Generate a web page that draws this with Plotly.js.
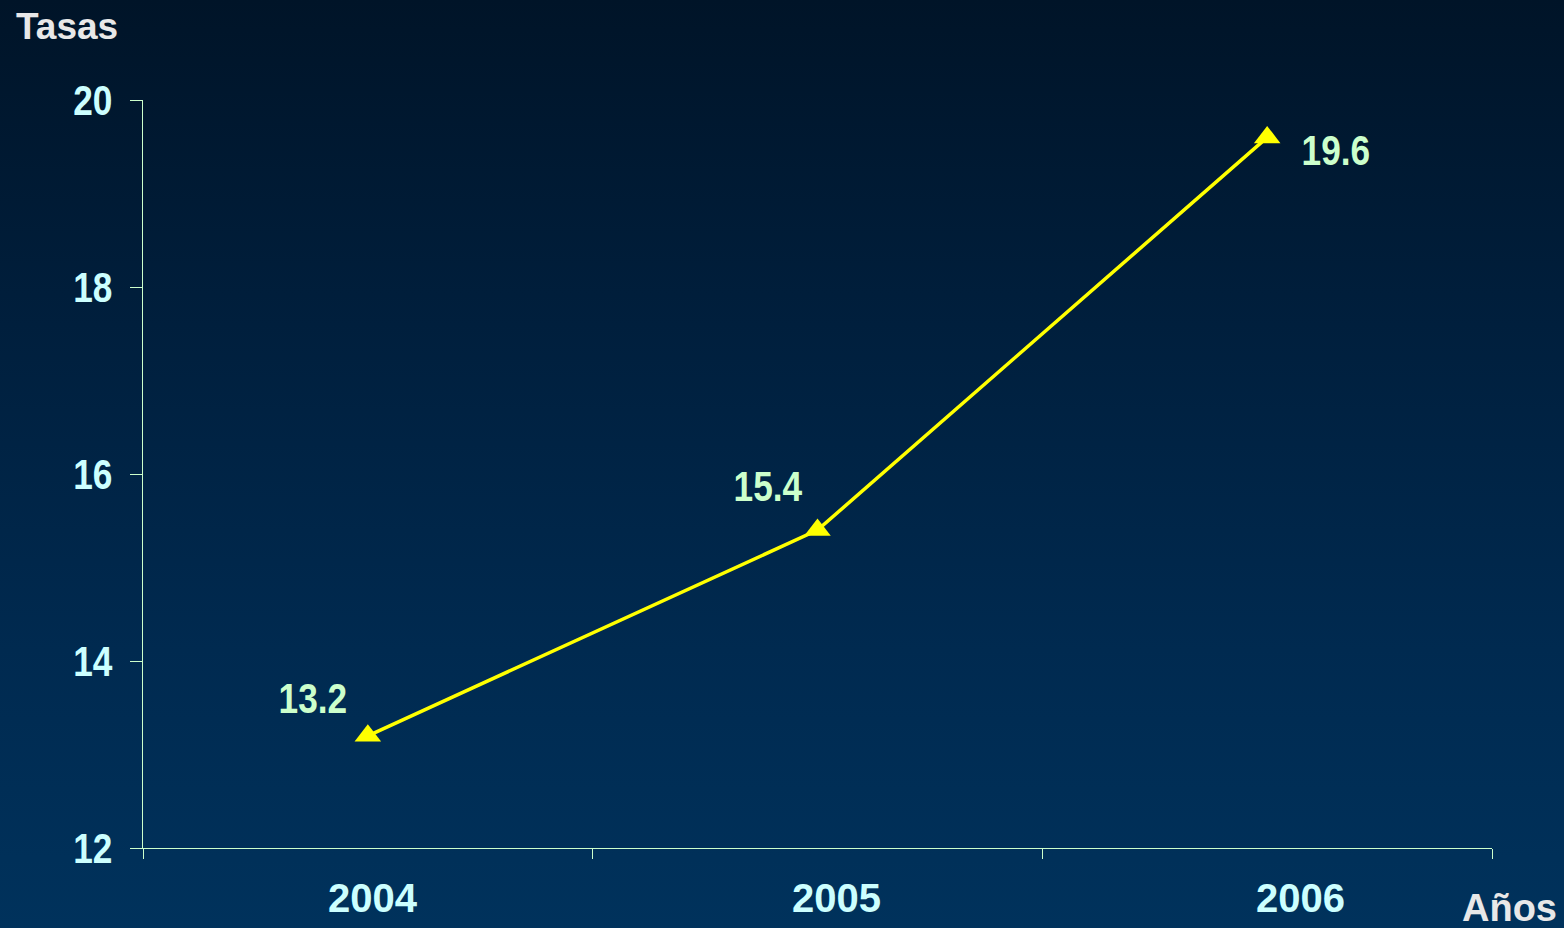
<!DOCTYPE html>
<html>
<head>
<meta charset="utf-8">
<script src="https://cdn.plot.ly/plotly-3.0.1.min.js"></script>
<style>
html,body{margin:0;padding:0;width:1564px;height:928px;overflow:hidden;}
body{background:linear-gradient(to bottom,#001428 0%,#001f3d 35%,#002a50 70%,#00325c 100%);}
#chart{width:1564px;height:928px;}
</style>
</head>
<body>
<div id="chart"></div>
<script>
var years = ["2004", "2005", "2006"];
var tasas = [13.2, 15.4, 19.6];
var valueLabels = ["13.2", "15.4", "19.6"];
var yTicks = [12, 14, 16, 18, 20];

var arial = "'Liberation Sans', Arial, sans-serif";

var trace = {
  x: years,
  y: tasas,
  type: "scatter",
  mode: "lines+markers",
  line: {color: "#ffff00", width: 3.5},
  marker: {symbol: "triangle-up", size: 23, color: "#ffff00"},
  hoverinfo: "x+y",
  cliponaxis: false
};

var labelShifts = [[-55, 38], [-50, 44], [69, -13]];
var catShifts = [5, 19, 33];

var annotations = [];
for (var i = 0; i < years.length; i++) {
  annotations.push({
    x: i, y: tasas[i], xref: "x", yref: "y",
    text: "<b>" + valueLabels[i] + "</b>", showarrow: false,
    xshift: labelShifts[i][0], yshift: labelShifts[i][1],
    font: {family: arial, size: 43, color: "#ccffcc"}
  });
  annotations.push({
    x: i, y: 0, xref: "x", yref: "paper",
    text: "<b>" + years[i] + "</b>", showarrow: false,
    xshift: catShifts[i], yanchor: "middle", yshift: -50,
    font: {family: arial, size: 40, color: "#ccffff"}
  });
}
annotations.push({
  xref: "paper", yref: "paper", x: -129/1349, y: 1 + 73/748,
  xanchor: "left", yanchor: "middle", text: "<b>Tasas</b>", showarrow: false,
  font: {family: arial, size: 37, color: "#e8e8e8"}
});
annotations.push({
  xref: "paper", yref: "paper", x: 1 + 67/1349, y: -60/748,
  xanchor: "right", yanchor: "middle", text: "<b>Años</b>", showarrow: false,
  font: {family: arial, size: 38, color: "#e8e8e8"}
});

var layout = {
  width: 1564, height: 928,
  margin: {l: 143, r: 72, t: 100, b: 80, pad: 0},
  paper_bgcolor: "rgba(0,0,0,0)",
  plot_bgcolor: "rgba(0,0,0,0)",
  showlegend: false,
  xaxis: {
    type: "category",
    range: [-0.5, 2.5],
    tickson: "boundaries",
    ticks: "outside", ticklen: 10, tickwidth: 1, tickcolor: "#ccffcc",
    showline: true, linecolor: "#ccffcc", linewidth: 1,
    showgrid: false, zeroline: false,
    showticklabels: false
  },
  yaxis: {
    range: [12, 20],
    tickvals: yTicks,
    ticktext: yTicks.map(function(v){return "<b>" + v + "</b>";}),
    ticks: "outside", ticklen: 12, tickwidth: 1, tickcolor: "#ccffcc",
    showline: true, linecolor: "#ccffcc", linewidth: 1,
    showgrid: false, zeroline: false,
    ticklabelstandoff: 9,
    tickfont: {family: arial, size: 43, color: "#ccffff"}
  },
  annotations: annotations
};

function condense(el, f) {
  try {
    var w = el.getComputedTextLength();
    if (w > 0) {
      el.setAttribute("textLength", (w * f).toFixed(1));
      el.setAttribute("lengthAdjust", "spacingAndGlyphs");
    }
  } catch (e) {}
}

Plotly.newPlot("chart", [trace], layout, {displayModeBar: false, staticPlot: true}).then(function(gd){
  gd.querySelectorAll(".ytick text").forEach(function(t){ condense(t, 0.82); });
  var ann = gd.querySelectorAll(".annotation");
  ann.forEach(function(a, idx){
    if (idx < 6 && idx % 2 === 0) {
      a.querySelectorAll("text").forEach(function(t){ condense(t, 0.82); });
    }
  });
});
</script>
</body>
</html>
